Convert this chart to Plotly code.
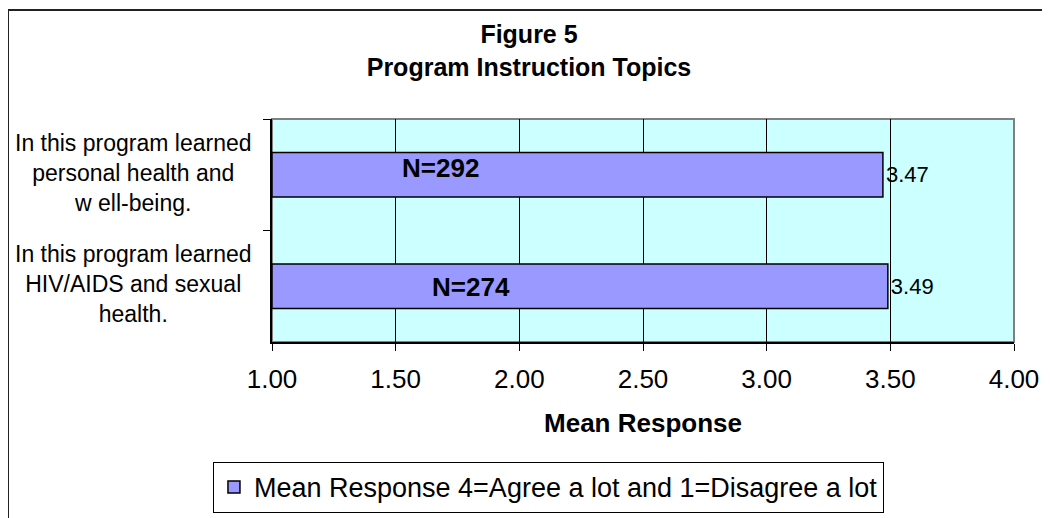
import plotly.graph_objects as go

# Data
categories = [
    "In this program learned<br>personal health and<br>w ell-being.",
    "In this program learned<br>HIV/AIDS and sexual<br>health.",
]
mean_response = [3.47, 3.49]
n_labels = ["N=292", "N=274"]
n_label_x = [1.683, 1.805]
x_ticks = [1.0, 1.5, 2.0, 2.5, 3.0, 3.5, 4.0]

FONT = "Liberation Sans, Arial, sans-serif"

fig = go.Figure()

fig.add_trace(go.Bar(
    y=categories,
    x=[v - 1 for v in mean_response],
    base=1,
    orientation='h',
    width=0.4,
    name='Mean Response 4=Agree a lot and 1=Disagree a lot',
    marker=dict(color='#9999FF', line=dict(color='black', width=1.5)),
    text=[f"{v:.2f}" for v in mean_response],
    textposition='outside',
    textfont=dict(size=22, color='black', family=FONT),
    cliponaxis=False,
    hoverinfo='skip',
))

# N labels inside the bars
for cat, lab, lx, shift in zip(categories, n_labels, n_label_x, [7, -1]):
    fig.add_annotation(
        x=lx, y=cat, xref='x', yref='y',
        text=f"<b>{lab}</b>", showarrow=False,
        font=dict(size=26, color='black', family=FONT),
        xanchor='center', yanchor='middle', yshift=shift,
    )

# Category labels, centred and wrapped like the original
for cat in categories:
    fig.add_annotation(
        x=-0.1873, y=cat, xref='paper', yref='y',
        text=cat, showarrow=False, align='center',
        font=dict(size=23, color='black', family=FONT),
        xanchor='center', yanchor='middle', yshift=2,
    )

# Outer chart border (runs off the right/bottom of the picture)
fig.add_shape(
    type='rect', xref='paper', yref='paper',
    x0=-0.3558, x1=1.08, y0=-0.85, y1=1.489,
    line=dict(color='#222222', width=2), layer='below',
)
# Plot-area frame
fig.add_shape(
    type='rect', xref='paper', yref='paper',
    x0=0, x1=1, y0=0, y1=1,
    line=dict(color='#808080', width=2), layer='below',
)

# page body has an 8px margin, so the figure is 8px smaller than the window
fig.update_layout(
    width=1042, height=510,
    margin=dict(l=264, r=36, t=111, b=176, autoexpand=False),
    paper_bgcolor='white',
    plot_bgcolor='#CCFFFF',
    font=dict(family=FONT, color='black'),
    title=dict(
        text="<b>Figure 5<br>Program Instruction Topics</b>",
        x=0.5, xanchor='center', y=0.931, yanchor='top',
        font=dict(size=25, color='black', family=FONT),
    ),
    xaxis=dict(
        range=[1, 4],
        tickvals=x_ticks,
        ticktext=[f"{t:.2f}" for t in x_ticks],
        tickfont=dict(size=26, family=FONT),
        ticklabelstandoff=6,
        showgrid=True, gridcolor='black', gridwidth=1,
        zeroline=False, automargin=False,
        showline=True, linecolor='black', linewidth=2,
        ticks='outside', ticklen=7, tickcolor='black', tickwidth=1,
        title=dict(text="<b>Mean Response</b>", font=dict(size=26, family=FONT), standoff=21),
    ),
    yaxis=dict(
        categoryorder='array', categoryarray=categories,
        autorange='reversed',
        showticklabels=False, automargin=False,
        showgrid=False, zeroline=False,
        showline=True, linecolor='black', linewidth=2,
        ticks='outside', tickson='boundaries', ticklen=7, tickcolor='black', tickwidth=1,
    ),
    showlegend=True,
    legend=dict(
        x=0.1967, y=0.11, xanchor='left', yanchor='top',
        xref='container', yref='container',
        bordercolor='black', borderwidth=1, bgcolor='white',
        font=dict(size=27, family=FONT, color='black'),
        itemwidth=30,
    ),
)

fig.write_html("out.html")
